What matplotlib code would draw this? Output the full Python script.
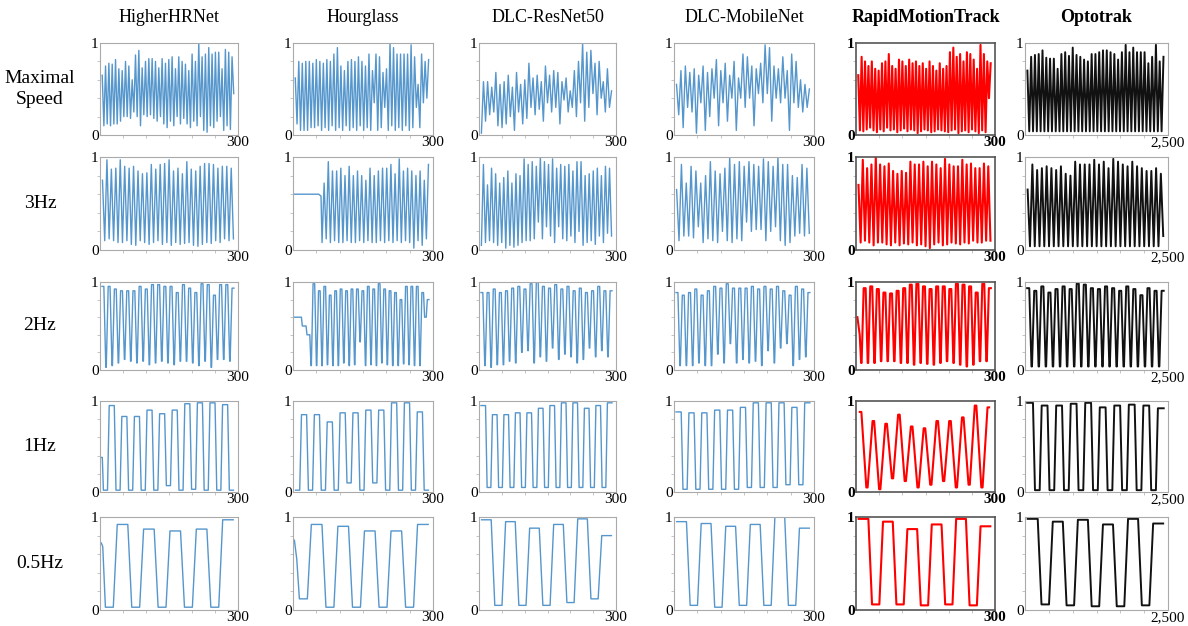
import numpy as np
import matplotlib.pyplot as plt

plt.rcParams['font.family'] = ['Liberation Serif', 'DejaVu Serif']

methods = ['HigherHRNet', 'Hourglass', 'DLC-ResNet50', 'DLC-MobileNet',
           'RapidMotionTrack', 'Optotrak']
conditions = ['Maximal\nSpeed', '3Hz', '2Hz', '1Hz', '0.5Hz']
x_max = [300, 300, 300, 300, 300, 2500]
x_labels = ['300', '300', '300', '300', '300', '2,500']

# normalised position, alternating extremes
# rows: conditions, columns: methods
levels = [
    [  # Maximal speed
        [0.65, 0.10, 0.75, 0.12, 0.78, 0.10, 0.77, 0.12, 0.82, 0.12, 0.72, 0.15, 0.70, 0.20,
         0.80, 0.20, 0.75, 0.18, 0.60, 0.25, 0.87, 0.20, 0.92, 0.10, 0.73, 0.22, 0.80, 0.20,
         0.83, 0.22, 0.83, 0.18, 0.80, 0.15, 0.73, 0.20, 0.83, 0.12, 0.78, 0.08, 0.82, 0.15,
         0.85, 0.10, 0.72, 0.20, 0.85, 0.12, 0.80, 0.18, 0.77, 0.12, 0.70, 0.08, 0.88, 0.15,
         0.80, 0.10, 1.00, 0.20, 0.85, 0.05, 0.88, 0.03, 0.95, 0.10, 0.88, 0.08, 0.90, 0.15,
         0.90, 0.20, 0.72, 0.05, 0.93, 0.10, 0.90, 0.06, 0.85, 0.45],
        [0.62, 0.12, 0.80, 0.05, 0.78, 0.05, 0.80, 0.05, 0.80, 0.08, 0.78, 0.08, 0.82, 0.10,
         0.80, 0.05, 0.78, 0.08, 0.82, 0.05, 0.80, 0.10, 0.88, 0.05, 0.95, 0.08, 0.75, 0.05,
         0.70, 0.10, 0.80, 0.05, 0.82, 0.08, 0.80, 0.05, 0.85, 0.10, 0.80, 0.05, 0.75, 0.08,
         0.88, 0.05, 0.70, 0.35, 0.88, 0.05, 0.85, 0.08, 0.68, 0.30, 0.72, 0.05, 1.00, 0.10,
         0.95, 0.05, 0.88, 0.08, 0.88, 0.05, 0.88, 0.10, 0.88, 0.05, 0.98, 0.08, 0.85, 0.30,
         0.55, 0.08, 0.88, 0.35, 0.80, 0.40, 0.82],
        [0.02, 0.58, 0.15, 0.58, 0.22, 0.52, 0.25, 0.68, 0.10, 0.55, 0.08, 0.58, 0.12, 0.65,
         0.20, 0.52, 0.05, 0.68, 0.25, 0.55, 0.12, 0.60, 0.18, 0.78, 0.30, 0.62, 0.22, 0.65,
         0.28, 0.58, 0.15, 0.75, 0.35, 0.65, 0.25, 0.70, 0.30, 0.68, 0.12, 0.58, 0.38, 0.62,
         0.25, 0.48, 0.30, 0.70, 0.20, 0.80, 0.35, 1.00, 0.15, 0.90, 0.30, 0.92, 0.45, 0.78,
         0.22, 0.80, 0.40, 0.58, 0.25, 0.72, 0.30, 0.48],
        [0.55, 0.22, 0.70, 0.08, 0.75, 0.30, 0.68, 0.25, 0.72, 0.02, 0.65, 0.35, 0.75, 0.05,
         0.68, 0.20, 0.72, 0.40, 0.82, 0.10, 0.70, 0.35, 0.78, 0.15, 0.65, 0.40, 0.80, 0.05,
         0.62, 0.40, 0.88, 0.30, 0.85, 0.40, 0.75, 0.10, 0.72, 0.45, 0.78, 0.35, 0.98, 0.45,
         0.95, 0.15, 0.75, 0.40, 0.72, 0.35, 0.85, 0.40, 0.70, 0.05, 0.88, 0.35, 0.80, 0.30,
         0.60, 0.25, 0.55, 0.30, 0.50],
        [0.65, 0.05, 0.85, 0.04, 0.80, 0.06, 0.75, 0.08, 0.80, 0.05, 0.72, 0.03, 0.70, 0.06,
         0.78, 0.04, 0.80, 0.08, 0.88, 0.05, 0.75, 0.06, 0.72, 0.03, 0.82, 0.05, 0.80, 0.07,
         0.75, 0.04, 0.82, 0.06, 0.78, 0.05, 0.80, 0.02, 0.75, 0.04, 0.78, 0.06, 0.72, 0.05,
         0.80, 0.03, 0.75, 0.04, 0.70, 0.06, 0.78, 0.05, 0.72, 0.04, 0.75, 0.03, 0.90, 0.05,
         0.95, 0.06, 0.85, 0.02, 0.88, 0.04, 0.80, 0.05, 0.90, 0.03, 0.88, 0.06, 0.82, 0.04,
         0.72, 0.02, 0.98, 0.05, 0.88, 0.03, 0.80, 0.40, 0.78],
        [0.70, 0.04, 0.85, 0.04, 0.87, 0.04, 0.88, 0.04, 0.92, 0.04, 0.84, 0.04, 0.83, 0.04,
         0.83, 0.04, 0.72, 0.04, 0.88, 0.04, 0.90, 0.04, 0.86, 0.04, 0.95, 0.04, 0.87, 0.04,
         0.85, 0.04, 0.82, 0.04, 0.80, 0.04, 0.88, 0.04, 0.88, 0.04, 0.90, 0.04, 0.92, 0.04,
         0.92, 0.04, 0.90, 0.04, 0.88, 0.04, 0.82, 0.04, 0.90, 0.04, 0.98, 0.04, 0.90, 0.04,
         0.95, 0.04, 0.90, 0.04, 0.90, 0.04, 0.90, 0.04, 0.78, 0.04, 0.85, 0.04, 0.98, 0.04,
         0.80, 0.04, 0.85],
    ],
    [  # 3Hz
        [0.75, 0.10, 0.97, 0.12, 0.87, 0.10, 0.88, 0.08, 0.97, 0.08, 0.90, 0.10, 0.88, 0.06,
         0.90, 0.05, 0.85, 0.10, 0.82, 0.08, 0.83, 0.06, 0.92, 0.08, 0.87, 0.10, 0.92, 0.06,
         0.93, 0.08, 0.97, 0.05, 0.85, 0.08, 0.88, 0.06, 0.82, 0.07, 0.95, 0.08, 0.87, 0.05,
         0.85, 0.04, 0.90, 0.06, 0.93, 0.08, 0.93, 0.07, 0.92, 0.10, 0.88, 0.08, 0.90, 0.12,
         0.90, 0.10, 0.88, 0.12],
        [0.08, 0.72, 0.12, 0.95, 0.08, 0.85, 0.10, 0.85, 0.08, 0.88, 0.08, 0.80, 0.10, 0.90,
         0.08, 0.80, 0.08, 0.85, 0.10, 0.80, 0.08, 0.75, 0.10, 0.88, 0.08, 0.80, 0.08, 0.85,
         0.10, 0.88, 0.08, 0.88, 0.10, 0.92, 0.08, 0.82, 0.10, 0.98, 0.08, 0.85, 0.10, 0.88,
         0.08, 0.85, 0.02, 0.80, 0.10, 0.85, 0.05, 0.75, 0.12, 0.92],
        [0.05, 0.92, 0.08, 0.70, 0.10, 0.88, 0.08, 0.82, 0.05, 0.72, 0.08, 0.78, 0.02, 0.85,
         0.05, 0.72, 0.03, 0.82, 0.05, 0.80, 0.08, 0.98, 0.10, 0.92, 0.10, 0.95, 0.12, 0.90,
         0.30, 1.00, 0.12, 0.95, 0.25, 0.92, 0.15, 0.98, 0.08, 0.88, 0.25, 0.92, 0.12, 0.90,
         0.10, 0.92, 0.15, 0.85, 0.08, 0.95, 0.20, 0.95, 0.05, 0.80, 0.08, 0.82, 0.10, 0.85,
         0.06, 0.88, 0.15, 0.80, 0.08, 0.90, 0.18, 0.88, 0.15],
        [0.65, 0.10, 0.92, 0.15, 0.72, 0.15, 0.90, 0.13, 0.85, 0.25, 0.72, 0.08, 0.80, 0.12,
         0.95, 0.10, 0.85, 0.08, 0.82, 0.20, 0.88, 0.10, 1.00, 0.08, 0.92, 0.12, 0.95, 0.10,
         0.90, 0.30, 0.95, 0.20, 0.92, 0.22, 0.90, 0.22, 0.98, 0.10, 0.95, 0.20, 0.90, 0.25,
         1.00, 0.10, 0.92, 0.05, 0.92, 0.08, 0.80, 0.15, 0.78, 0.18, 0.92, 0.15, 0.88, 0.18],
        [0.70, 0.08, 0.97, 0.10, 0.88, 0.08, 0.92, 0.05, 1.00, 0.08, 0.92, 0.08, 0.90, 0.06,
         0.93, 0.05, 0.85, 0.08, 0.82, 0.05, 0.85, 0.07, 0.83, 0.06, 0.95, 0.08, 0.92, 0.05,
         0.92, 0.06, 0.95, 0.04, 0.90, 0.02, 0.95, 0.06, 0.92, 0.08, 0.88, 0.05, 0.98, 0.06,
         0.92, 0.08, 0.90, 0.07, 0.90, 0.06, 0.97, 0.08, 0.92, 0.07, 0.93, 0.10, 0.88, 0.08,
         0.88, 0.08, 0.93, 0.10, 0.90, 0.10],
        [0.65, 0.04, 0.92, 0.04, 0.86, 0.04, 0.88, 0.04, 0.90, 0.04, 0.88, 0.04, 0.86, 0.04,
         0.90, 0.04, 0.82, 0.04, 0.80, 0.04, 0.95, 0.04, 0.92, 0.04, 0.92, 0.04, 0.92, 0.04,
         0.97, 0.04, 0.92, 0.04, 0.95, 0.04, 0.88, 0.04, 0.98, 0.04, 0.95, 0.04, 0.92, 0.04,
         0.90, 0.04, 0.95, 0.04, 0.90, 0.04, 0.88, 0.04, 0.85, 0.04, 0.85, 0.04, 0.88, 0.04,
         0.82, 0.15],
    ],
    [  # 2Hz
        [0.95, 0.03, 0.95, 0.05, 0.92, 0.08, 0.90, 0.12, 0.90, 0.10, 0.90, 0.08, 0.95, 0.10,
         0.92, 0.06, 0.97, 0.08, 0.97, 0.10, 0.95, 0.08, 0.95, 0.06, 0.88, 0.10, 0.97, 0.10,
         0.93, 0.08, 0.88, 0.05, 0.98, 0.10, 0.97, 0.03, 0.85, 0.12, 0.97, 0.12, 0.97, 0.10,
         0.93],
        [0.05, 0.98, 0.05, 0.90, 0.05, 0.95, 0.06, 0.85, 0.05, 0.90, 0.05, 0.92, 0.08, 0.90,
         0.05, 0.92, 0.06, 0.92, 0.32, 0.90, 0.05, 0.95, 0.06, 0.92, 0.05, 0.98, 0.08, 0.92,
         0.06, 0.90, 0.05, 0.88, 0.05, 0.80, 0.07, 0.95, 0.06, 0.95, 0.05, 0.95, 0.05, 0.88,
         0.60, 0.80],
        [0.88, 0.05, 0.88, 0.03, 0.92, 0.06, 0.88, 0.06, 0.90, 0.10, 0.93, 0.08, 0.95, 0.20,
         0.92, 0.22, 0.98, 0.08, 1.00, 0.15, 0.95, 0.10, 0.93, 0.25, 0.97, 0.12, 0.92, 0.18,
         0.95, 0.15, 0.90, 0.08, 0.93, 0.12, 0.88, 0.25, 0.90, 0.15, 0.95, 0.22, 0.90, 0.15,
         0.90],
        [0.88, 0.05, 0.85, 0.05, 0.88, 0.05, 0.92, 0.08, 0.85, 0.05, 0.90, 0.05, 0.95, 0.18,
         0.93, 0.08, 0.98, 0.30, 0.93, 0.08, 0.93, 0.12, 0.93, 0.08, 0.95, 0.10, 0.92, 0.05,
         0.95, 0.22, 0.92, 0.08, 0.95, 0.25, 0.90, 0.30, 0.85, 0.05, 0.95, 0.12, 0.92, 0.15,
         0.88],
        [0.08, 0.93, 0.08, 0.95, 0.08, 0.92, 0.10, 0.88, 0.10, 0.87, 0.10, 0.90, 0.08, 0.93,
         0.08, 0.97, 0.06, 0.98, 0.08, 0.95, 0.07, 0.92, 0.06, 0.95, 0.08, 0.95, 0.10, 0.92,
         0.08, 0.98, 0.06, 0.97, 0.04, 0.95, 0.06, 0.88, 0.10, 0.98, 0.10, 0.93],
        [0.93, 0.04, 0.90, 0.04, 0.95, 0.04, 0.88, 0.04, 0.92, 0.04, 0.95, 0.04, 0.92, 0.04,
         0.98, 0.04, 0.97, 0.04, 0.93, 0.04, 0.92, 0.04, 0.95, 0.04, 0.93, 0.04, 0.90, 0.04,
         0.95, 0.04, 0.92, 0.04, 0.85, 0.04, 0.93, 0.04, 0.90, 0.04, 0.90],
    ],
    [  # 1Hz
        [0.02, 0.95, 0.02, 0.83, 0.02, 0.83, 0.02, 0.90, 0.02, 0.86, 0.07, 0.90, 0.02, 0.97,
         0.03, 0.98, 0.02, 0.98, 0.02, 0.96, 0.02],
        [0.02, 0.85, 0.02, 0.85, 0.02, 0.77, 0.02, 0.87, 0.10, 0.87, 0.02, 0.90, 0.10, 0.90,
         0.02, 0.98, 0.02, 0.98, 0.02, 0.88, 0.02],
        [0.95, 0.05, 0.85, 0.05, 0.85, 0.05, 0.87, 0.05, 0.87, 0.05, 0.92, 0.05, 0.95, 0.05,
         0.98, 0.05, 0.98, 0.05, 0.92, 0.05, 0.95, 0.05, 0.98],
        [0.88, 0.03, 0.87, 0.03, 0.87, 0.03, 0.90, 0.03, 0.90, 0.03, 0.93, 0.05, 0.98, 0.05,
         0.98, 0.05, 0.98, 0.08, 0.93, 0.08, 0.98],
        [0.88, 0.05, 0.78, 0.03, 0.75, 0.15, 0.85, 0.12, 0.72, 0.05, 0.70, 0.08, 0.78, 0.12,
         0.78, 0.05, 0.82, 0.08, 0.95, 0.05, 0.93],
        [0.98, 0.02, 0.95, 0.02, 0.95, 0.02, 0.97, 0.02, 0.98, 0.02, 0.93, 0.02, 0.95, 0.02,
         0.96, 0.02, 0.95, 0.02, 0.92],
    ],
    [  # 0.5Hz
        [0.03, 0.92, 0.03, 0.87, 0.03, 0.85, 0.03, 0.87, 0.03, 0.97],
        [0.12, 0.92, 0.03, 0.90, 0.03, 0.85, 0.03, 0.85, 0.03, 0.92],
        [0.97, 0.05, 0.95, 0.05, 0.88, 0.05, 0.92, 0.08, 0.98, 0.12, 0.80],
        [0.95, 0.05, 0.93, 0.03, 0.90, 0.05, 0.92, 0.05, 1.00, 0.05, 0.88],
        [0.98, 0.06, 0.95, 0.06, 0.87, 0.05, 0.92, 0.06, 0.98, 0.05, 0.90],
        [0.98, 0.06, 0.95, 0.05, 0.97, 0.04, 0.92, 0.04, 0.98, 0.05, 0.93],
    ],
]

# short lead-in segments before the regular movement starts (frame, value)
lead = {
    (1, 1): ([3, 55, 60], [0.60, 0.60, 0.58]),
    (2, 1): ([3, 18, 20, 28, 30, 36], [0.60, 0.60, 0.50, 0.50, 0.40, 0.40]),
    (2, 4): ([3, 8], [0.60, 0.40]),
    (3, 0): ([3, 5], [0.38, 0.38]),
    (4, 0): ([3, 6], [0.72, 0.68]),
    (4, 1): ([3, 8], [0.75, 0.55]),
}

# plateau share of each slot (high, low) per condition
hold = [(0.0, 0.0), (0.0, 0.0), (0.6, 0.15), (0.8, 0.65), (0.8, 0.6)]
colors = ['#5596cc'] * 4 + ['#ff0000', '#111111']
widths = [1.0] * 4 + [1.5, 1.4]

fig = plt.figure(figsize=(11.88, 6.26), dpi=100)
W, H = 1188, 626
col_left = [100, 293, 479, 674, 856, 1025]
col_w = [138, 140, 137, 140, 139, 143]
row_top = [43, 157, 282, 401, 517]
row_h = [92, 93, 88, 91, 93]


def trace(vals, x0, x1, hi_hold, lo_hold):
    n = len(vals)
    w = (x1 - x0) / n
    xs, ys = [], []
    for i, v in enumerate(vals):
        c = x0 + (i + 0.5) * w
        h = (hi_hold if v > 0.5 else lo_hold) * w / 2
        if h > 0:
            xs += [c - h, c + h]
            ys += [v, v]
        else:
            xs.append(c)
            ys.append(v)
    return xs, ys


for r in range(len(conditions)):
    for c in range(len(methods)):
        ax = fig.add_axes([col_left[c] / W, 1 - (row_top[r] + row_h[r]) / H,
                           col_w[c] / W, row_h[r] / H])
        xm = x_max[c]
        s0, s1 = 0.01 * xm, 0.975 * xm
        xs, ys = [], []
        if (r, c) in lead:
            lx, ly = lead[(r, c)]
            xs += [v * xm / 300 for v in lx]
            ys += ly
            s0 = xs[-1]
        hh = hold[r]
        if c == 4 and r == 3:
            # rounder red trace at 1Hz
            hh = (0.25, 0.2)
        tx, ty = trace(levels[r][c], s0, s1, *hh)
        xs += tx
        ys += ty
        ax.plot(xs, ys, color=colors[c], lw=widths[c], solid_joinstyle='round')
        ax.set_xlim(0, xm)
        ax.set_ylim(0, 1)
        ax.set_xticks([xm])
        ax.set_xticklabels([x_labels[c]])
        ax.set_yticks([0, 1])
        ax.set_xticks(np.linspace(0, xm, 7)[1:-1], minor=True)
        ax.set_yticks([0.2, 0.4, 0.6, 0.8], minor=True)
        bold = 'bold' if c == 4 else 'normal'
        ax.tick_params(which='major', length=0, pad=1, labelsize=11)
        ax.tick_params(which='minor', length=2, color='#bbbbbb', width=0.6)
        for lab in ax.get_xticklabels() + ax.get_yticklabels():
            lab.set_fontweight(bold)
        edge = '#555555' if c == 4 else '#aaaaaa'
        for sp in ax.spines.values():
            sp.set_color(edge)
            sp.set_linewidth(1.2 if c == 4 else 0.8)
        if r == 0:
            fig.text((col_left[c] + col_w[c] / 2) / W, 1 - 18 / H, methods[c],
                     ha='center', va='center', fontsize=13,
                     fontweight='bold' if c >= 4 else 'normal')
    fig.text(40 / W, 1 - (row_top[r] + row_h[r] / 2) / H, conditions[r],
             ha='center', va='center', fontsize=14, linespacing=1.3)

fig.savefig('out.png', dpi=100)
